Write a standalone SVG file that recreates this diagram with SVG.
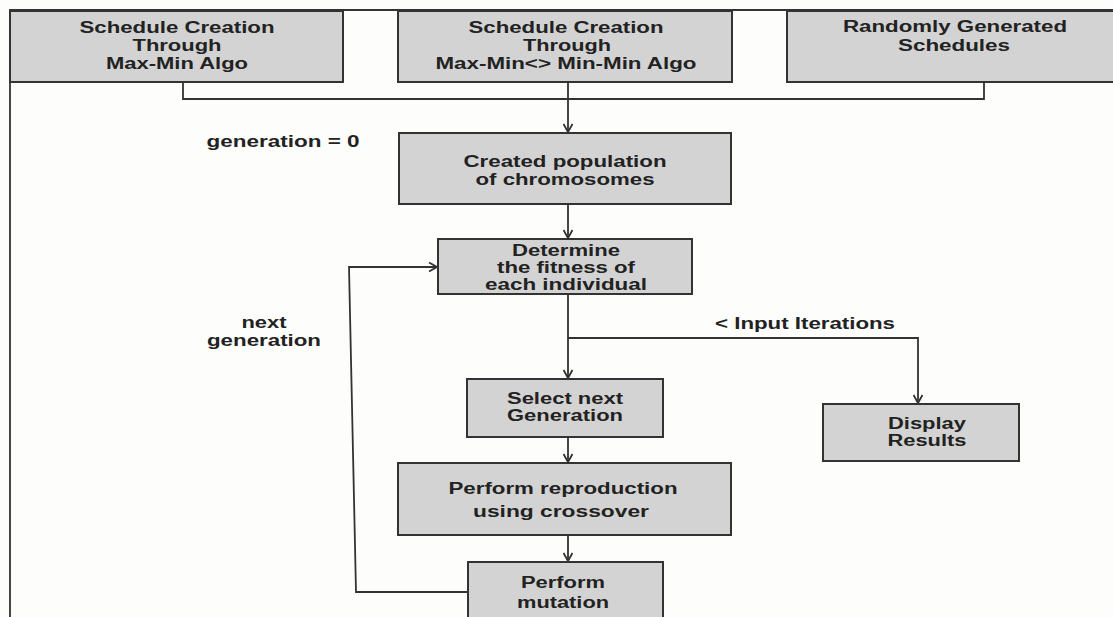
<svg xmlns="http://www.w3.org/2000/svg" width="1113" height="617" viewBox="0 0 1113 617">
<defs>
<style>
.box{fill:#d3d3d3;stroke:#333;stroke-width:2}
.t{font-family:"Liberation Sans",Arial,sans-serif;font-weight:bold;font-size:16px;fill:#222;text-anchor:middle}
.c{fill:none;stroke:#333;stroke-width:1.8}
</style>
<marker id="ah" viewBox="0 0 10 10" refX="9" refY="5" markerWidth="10" markerHeight="10" markerUnits="userSpaceOnUse" orient="auto">
<path d="M1,0.5 L9,5 L1,9.5" fill="none" stroke="#333" stroke-width="1.8"/>
</marker>
</defs>
<rect width="1113" height="617" fill="#fdfdfb"/>
<g id="frame" class="c"><path d="M10,617 L10,10 L1113,10"/></g>
<g id="connectors" class="c">
<path d="M183,82 L183,99 L984,99 L984,82"/>
<path d="M568,82 L568,132" marker-end="url(#ah)"/>
<path d="M568,204 L568,238" marker-end="url(#ah)"/>
<path d="M568,294 L568,378" marker-end="url(#ah)"/>
<path d="M568,338 L918,338 L918,403" marker-end="url(#ah)"/>
<path d="M568,437 L568,462" marker-end="url(#ah)"/>
<path d="M568,535 L568,561" marker-end="url(#ah)"/>
<path d="M468,592 L356,592 L349,267 L437,267" marker-end="url(#ah)"/>
</g>
<g id="n1"><rect class="box" x="10" y="11" width="333" height="71"/>
<text class="t" x="177" y="33" textLength="195" lengthAdjust="spacingAndGlyphs">Schedule Creation</text>
<text class="t" x="177" y="50.5" textLength="89" lengthAdjust="spacingAndGlyphs">Through</text>
<text class="t" x="177" y="68.5" textLength="142" lengthAdjust="spacingAndGlyphs">Max-Min Algo</text></g>
<g id="n2"><rect class="box" x="398" y="11" width="334" height="71"/>
<text class="t" x="566" y="33" textLength="195" lengthAdjust="spacingAndGlyphs">Schedule Creation</text>
<text class="t" x="567" y="50.5" textLength="88" lengthAdjust="spacingAndGlyphs">Through</text>
<text class="t" x="566" y="68.5" textLength="261" lengthAdjust="spacingAndGlyphs">Max-Min&lt;&gt; Min-Min Algo</text></g>
<g id="n3"><rect class="box" x="787" y="11" width="340" height="71"/>
<text class="t" x="955" y="32" textLength="224" lengthAdjust="spacingAndGlyphs">Randomly Generated</text>
<text class="t" x="954" y="51" textLength="112" lengthAdjust="spacingAndGlyphs">Schedules</text></g>
<g id="lbl_gen0"><text class="t" x="283" y="147" textLength="153" lengthAdjust="spacingAndGlyphs">generation = 0</text></g>
<g id="n4"><rect class="box" x="399" y="133" width="332" height="71"/>
<text class="t" x="565" y="167" textLength="203" lengthAdjust="spacingAndGlyphs">Created population</text>
<text class="t" x="565" y="185" textLength="179" lengthAdjust="spacingAndGlyphs">of chromosomes</text></g>
<g id="n5"><rect class="box" x="438" y="239" width="254" height="55"/>
<text class="t" x="566" y="256" textLength="108" lengthAdjust="spacingAndGlyphs">Determine</text>
<text class="t" x="566" y="273" textLength="138" lengthAdjust="spacingAndGlyphs">the fitness of</text>
<text class="t" x="566" y="289.5" textLength="162" lengthAdjust="spacingAndGlyphs">each individual</text></g>
<g id="lbl_next"><text class="t" x="264" y="328" textLength="45" lengthAdjust="spacingAndGlyphs">next</text>
<text class="t" x="264" y="346" textLength="114" lengthAdjust="spacingAndGlyphs">generation</text></g>
<g id="lbl_iter"><text class="t" x="805" y="329" textLength="180" lengthAdjust="spacingAndGlyphs">&lt; Input Iterations</text></g>
<g id="n6"><rect class="box" x="467" y="379" width="196" height="58"/>
<text class="t" x="565" y="404" textLength="116" lengthAdjust="spacingAndGlyphs">Select next</text>
<text class="t" x="565" y="421" textLength="116" lengthAdjust="spacingAndGlyphs">Generation</text></g>
<g id="n7"><rect class="box" x="823" y="404" width="196" height="57"/>
<text class="t" x="927" y="429" textLength="78" lengthAdjust="spacingAndGlyphs">Display</text>
<text class="t" x="927" y="446" textLength="79" lengthAdjust="spacingAndGlyphs">Results</text></g>
<g id="n8"><rect class="box" x="398" y="463" width="333" height="72"/>
<text class="t" x="563" y="494" textLength="229" lengthAdjust="spacingAndGlyphs">Perform reproduction</text>
<text class="t" x="561" y="517" textLength="176" lengthAdjust="spacingAndGlyphs">using crossover</text></g>
<g id="n9"><rect class="box" x="468" y="562" width="195" height="70"/>
<text class="t" x="563" y="588" textLength="84" lengthAdjust="spacingAndGlyphs">Perform</text>
<text class="t" x="563" y="608" textLength="92" lengthAdjust="spacingAndGlyphs">mutation</text></g>
</svg>
